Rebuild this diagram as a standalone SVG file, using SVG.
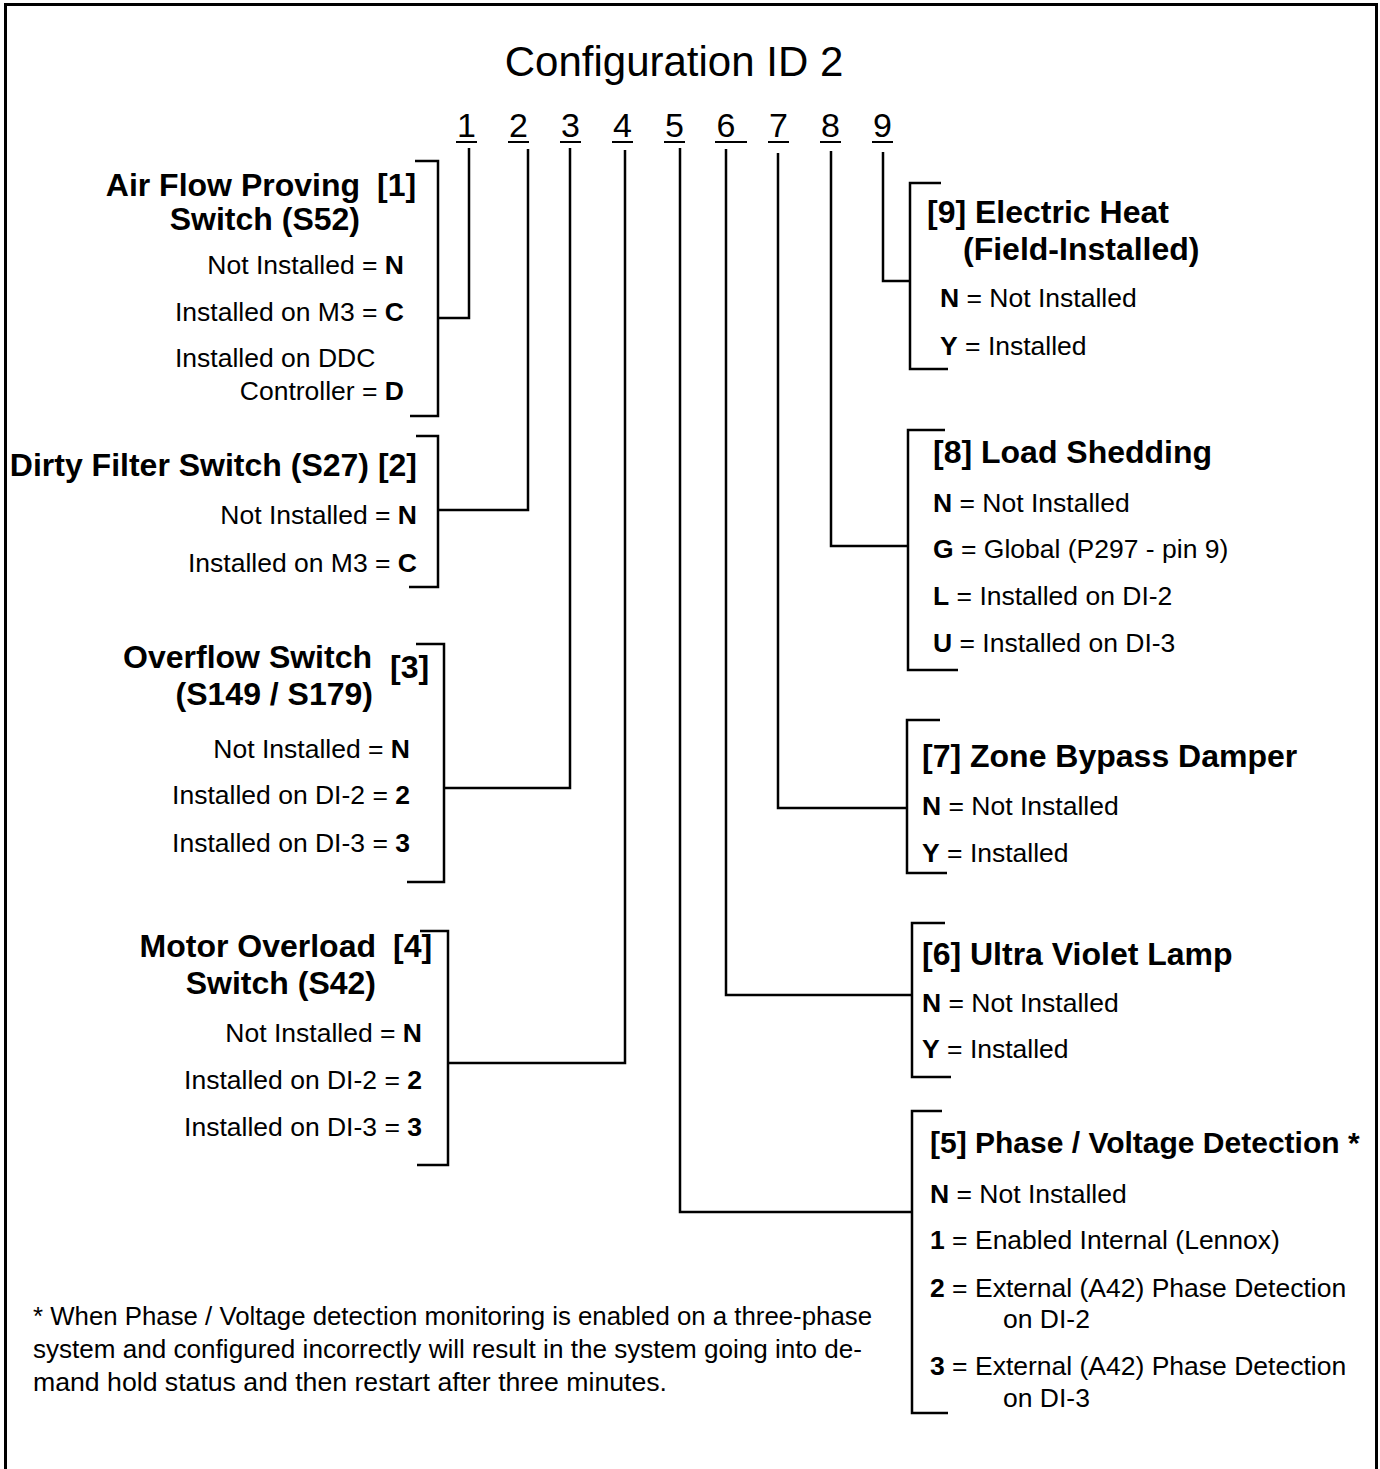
<svg xmlns="http://www.w3.org/2000/svg" width="1380" height="1469" viewBox="0 0 1380 1469">
<style>
text{font-family:"Liberation Sans",Arial,sans-serif;fill:#000}
.t{font-size:42px}
.d{font-size:34px;text-anchor:middle}
.h{font-size:32px;font-weight:bold}
.b{font-size:26.5px}
.r{text-anchor:end}
.k{font-weight:bold}
.f{font-size:25px}
.ln{fill:none;stroke:#000;stroke-width:2.5}
.ul{stroke:#000;stroke-width:2}
</style>
<rect width="1380" height="1469" fill="#fff"/>
<path d="M5.5,1469 V4.5 H1376.5 V1469" fill="none" stroke="#000" stroke-width="3"/>

<g id="title">
<text class="t" x="674" y="76" text-anchor="middle">Configuration ID 2</text>
</g>

<g id="digits">
<text class="d" x="466.5" y="137">1</text>
<text class="d" x="518.5" y="137">2</text>
<text class="d" x="570.5" y="137">3</text>
<text class="d" x="622.5" y="137">4</text>
<text class="d" x="674.5" y="137">5</text>
<text class="d" x="726" y="137">6</text>
<text class="d" x="778.5" y="137">7</text>
<text class="d" x="830.5" y="137">8</text>
<text class="d" x="882.5" y="137">9</text>
<line class="ul" x1="456" y1="142" x2="477" y2="142"/>
<line class="ul" x1="508" y1="142" x2="529" y2="142"/>
<line class="ul" x1="560" y1="142" x2="581" y2="142"/>
<line class="ul" x1="612" y1="142" x2="633" y2="142"/>
<line class="ul" x1="664" y1="142" x2="685" y2="142"/>
<line class="ul" x1="715" y1="142" x2="747" y2="142"/>
<line class="ul" x1="768" y1="142" x2="789" y2="142"/>
<line class="ul" x1="820" y1="142" x2="841" y2="142"/>
<line class="ul" x1="872" y1="142" x2="893" y2="142"/>
</g>

<g id="connectors">
<path class="ln" d="M469,148 V318 H438"/>
<path class="ln" d="M528,149 V510 H438"/>
<path class="ln" d="M570,148 V788 H444"/>
<path class="ln" d="M625,150 V1063 H448"/>
<path class="ln" d="M680,148 V1212 H912"/>
<path class="ln" d="M726,149 V995 H912"/>
<path class="ln" d="M778,153 V808 H907"/>
<path class="ln" d="M831,151 V546 H908"/>
<path class="ln" d="M883,152 V281 H910"/>
</g>

<g id="node1">
<path class="ln" d="M415,161 H438 V416 H410"/>
<text class="h r" x="360" y="196">Air Flow Proving</text>
<text class="h" x="377" y="196">[1]</text>
<text class="h r" x="360" y="230">Switch (S52)</text>
<text class="b r" x="404" y="274">Not Installed = <tspan class="k">N</tspan></text>
<text class="b r" x="404" y="321">Installed on M3 = <tspan class="k">C</tspan></text>
<text class="b" x="175" y="367">Installed on DDC</text>
<text class="b r" x="404" y="400">Controller = <tspan class="k">D</tspan></text>
</g>

<g id="node2">
<path class="ln" d="M416,436 H438 V587 H409"/>
<text class="h r" x="417" y="476">Dirty Filter Switch (S27) [2]</text>
<text class="b r" x="417" y="524">Not Installed = <tspan class="k">N</tspan></text>
<text class="b r" x="417" y="572">Installed on M3 = <tspan class="k">C</tspan></text>
</g>

<g id="node3">
<path class="ln" d="M416,644 H444 V882 H407"/>
<text class="h r" x="372" y="668">Overflow Switch</text>
<text class="h r" x="373" y="705">(S149 / S179)</text>
<text class="h" x="390" y="678">[3]</text>
<text class="b r" x="410" y="758">Not Installed = <tspan class="k">N</tspan></text>
<text class="b r" x="410" y="804">Installed on DI-2 = <tspan class="k">2</tspan></text>
<text class="b r" x="410" y="852">Installed on DI-3 = <tspan class="k">3</tspan></text>
</g>

<g id="node4">
<path class="ln" d="M420,931 H448 V1165 H417"/>
<text class="h r" x="376" y="957">Motor Overload</text>
<text class="h" x="393" y="957">[4]</text>
<text class="h r" x="376" y="994">Switch (S42)</text>
<text class="b r" x="422" y="1042">Not Installed = <tspan class="k">N</tspan></text>
<text class="b r" x="422" y="1089">Installed on DI-2 = <tspan class="k">2</tspan></text>
<text class="b r" x="422" y="1136">Installed on DI-3 = <tspan class="k">3</tspan></text>
</g>

<g id="node9">
<path class="ln" d="M941,183 H910 V369 H948"/>
<text class="h" x="927" y="223">[9] Electric Heat</text>
<text class="h" x="963" y="260">(Field-Installed)</text>
<text class="b" x="940" y="307"><tspan class="k">N</tspan> = Not Installed</text>
<text class="b" x="940" y="355"><tspan class="k">Y</tspan> = Installed</text>
</g>

<g id="node8">
<path class="ln" d="M945,430 H908 V670 H958"/>
<text class="h" x="933" y="463">[8] Load Shedding</text>
<text class="b" x="933" y="512"><tspan class="k">N</tspan> = Not Installed</text>
<text class="b" x="933" y="558"><tspan class="k">G</tspan> = Global (P297 - pin 9)</text>
<text class="b" x="933" y="605"><tspan class="k">L</tspan> = Installed on DI-2</text>
<text class="b" x="933" y="652"><tspan class="k">U</tspan> = Installed on DI-3</text>
</g>

<g id="node7">
<path class="ln" d="M940,720 H907 V873 H947"/>
<text class="h" x="922" y="767">[7] Zone Bypass Damper</text>
<text class="b" x="922" y="815"><tspan class="k">N</tspan> = Not Installed</text>
<text class="b" x="922" y="862"><tspan class="k">Y</tspan> = Installed</text>
</g>

<g id="node6">
<path class="ln" d="M945,923 H912 V1077 H951"/>
<text class="h" x="922" y="965">[6] Ultra Violet Lamp</text>
<text class="b" x="922" y="1012"><tspan class="k">N</tspan> = Not Installed</text>
<text class="b" x="922" y="1058"><tspan class="k">Y</tspan> = Installed</text>
</g>

<g id="node5">
<path class="ln" d="M942,1111 H912 V1413 H948"/>
<text class="h" x="930" y="1153" style="font-size:30px">[5] Phase / Voltage Detection *</text>
<text class="b" x="930" y="1203"><tspan class="k">N</tspan> = Not Installed</text>
<text class="b" x="930" y="1249"><tspan class="k">1</tspan> = Enabled Internal (Lennox)</text>
<text class="b" x="930" y="1297"><tspan class="k">2</tspan> = External (A42) Phase Detection</text>
<text class="b" x="1003" y="1328">on DI-2</text>
<text class="b" x="930" y="1375"><tspan class="k">3</tspan> = External (A42) Phase Detection</text>
<text class="b" x="1003" y="1407">on DI-3</text>
</g>

<g id="footnote">
<text class="f" x="33" y="1325" textLength="839" lengthAdjust="spacingAndGlyphs">* When Phase / Voltage detection monitoring is enabled on a three-phase</text>
<text class="f" x="33" y="1358" textLength="829" lengthAdjust="spacingAndGlyphs">system and configured incorrectly will result in the system going into de-</text>
<text class="f" x="33" y="1391" textLength="634" lengthAdjust="spacingAndGlyphs">mand hold status and then restart after three minutes.</text>
</g>
</svg>
